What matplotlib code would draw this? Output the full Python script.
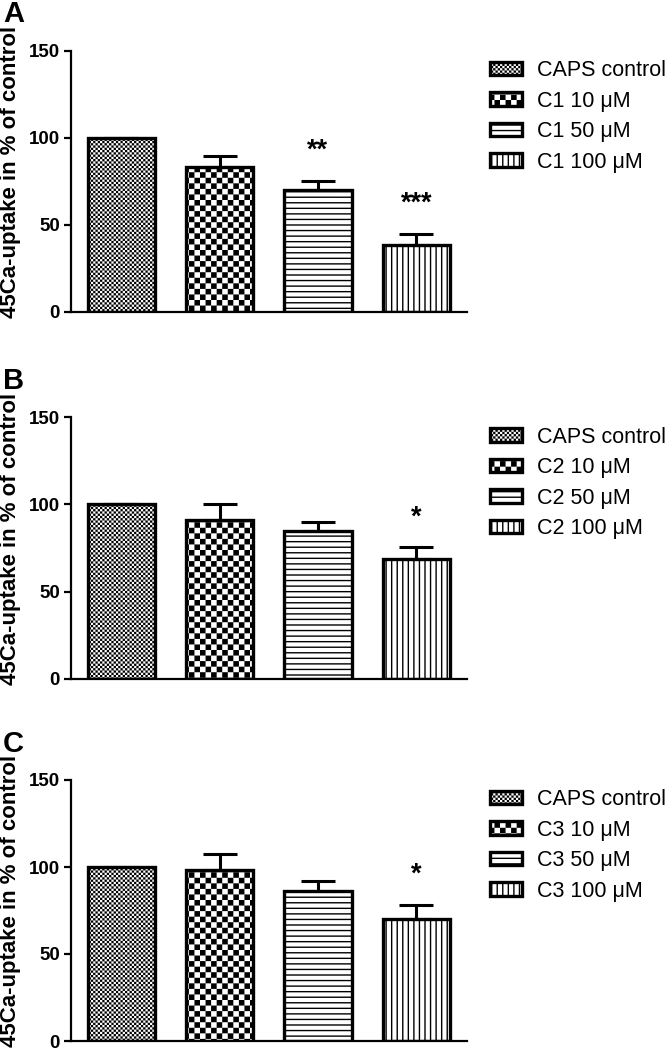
import warnings
import numpy as np
import matplotlib
matplotlib.use("Agg")
import matplotlib.pyplot as plt
from matplotlib import hatch as mhatch

warnings.filterwarnings("ignore", message="hatch must consist")

# ── Data ────────────────────────────────────────────────────────────────
compounds = ["C1", "C2", "C3"]
doses = ["10 μM", "50 μM", "100 μM"]
panel_letters = ["A", "B", "C"]

c1_mean = [100, 83.2, 70.0, 38.6]
c1_err = [0, 6.7, 5.2, 6.2]
c1_stars = ["", "", "**", "***"]

c2_mean = [100, 91.2, 84.8, 68.8]
c2_err = [0, 8.8, 5.4, 6.6]
c2_stars = ["", "", "", "*"]

c3_mean = [100, 98.0, 86.3, 70.2]
c3_err = [0, 9.4, 5.4, 7.9]
c3_stars = ["", "", "", "*"]

means = [c1_mean, c2_mean, c3_mean]
errs = [c1_err, c2_err, c3_err]
stars = [c1_stars, c2_stars, c3_stars]

yticks = [0, 50, 100, 150]
ylabel = "45Ca-uptake in % of control"


# ── Checkerboard hatches ('f' fine, 'g' coarse) ─────────────────────────
class CheckerHatch(mhatch.HatchPatternBase):
    SHRINK = 0.0069  # compensate the hatch stroke width

    def __init__(self, hatch, density):
        if "f" in hatch:
            self.n = 44
        elif "g" in hatch:
            self.n = 18
        else:
            self.n = 0
        self.num_vertices = 5 * (self.n * self.n // 2)

    def set_vertices_and_codes(self, vertices, codes):
        n = self.n
        step = 1.0 / n
        s = self.SHRINK
        k = 0
        for i in range(n):
            for j in range(n):
                if (i + j) % 2:
                    continue
                x0, y0 = i * step + s, j * step + s
                x1, y1 = (i + 1) * step - s, (j + 1) * step - s
                vertices[k:k + 5] = [(x0, y0), (x1, y0), (x1, y1), (x0, y1), (x0, y0)]
                codes[k:k + 5] = [1, 2, 2, 2, 79]
                k += 5


mhatch._hatch_types.append(CheckerHatch)

hatches = ["f", "g", "---", "|||"]

plt.rcParams["font.family"] = ["Liberation Sans", "DejaVu Sans"]
plt.rcParams["hatch.linewidth"] = 1.0
plt.rcParams["hatch.color"] = "black"

W, H = 667, 1055
fig = plt.figure(figsize=(W / 100, H / 100), dpi=100)

left_px, right_px = 70.5, 467
tops_px = [51, 417.5, 780]
h_px = 261

x = np.arange(4)
for k in range(3):
    top = tops_px[k]
    ax = fig.add_axes([left_px / W, 1 - (top + h_px) / H,
                       (right_px - left_px) / W, h_px / H])
    bars = ax.bar(x, means[k], width=0.684, color="white", edgecolor="black",
                  linewidth=2.4, zorder=2)
    for p, hp in zip(bars.patches, hatches):
        p.set_hatch(hp)
    ax.errorbar(x, means[k], yerr=[np.zeros(4), errs[k]], fmt="none",
                ecolor="black", elinewidth=2.2, capsize=12.5, capthick=2.2,
                zorder=3)
    for xi, m, e, s in zip(x, means[k], errs[k], stars[k]):
        if s:
            ax.text(xi, m + e + 13.3, s, ha="center", va="baseline",
                    fontsize=19.5, fontweight="bold")

    ax.set_xlim(-0.515, 3.515)
    ax.set_ylim(0, 150)
    ax.set_yticks(yticks)
    ax.set_xticks([])
    for side in ("top", "right"):
        ax.spines[side].set_visible(False)
    for side in ("left", "bottom"):
        ax.spines[side].set_linewidth(1.6)
    ax.tick_params(axis="y", width=1.6, length=5, pad=2.5, labelsize=13.5)
    for lab in ax.get_yticklabels():
        lab.set_fontweight("bold")

    ax.text((11 - left_px) / (right_px - left_px), 0.536, ylabel,
            transform=ax.transAxes, rotation=90, ha="center", va="center",
            fontsize=16, fontweight="bold")

    labels = ["CAPS control"] + [f"{compounds[k]} {d}" for d in doses]
    ax.legend(bars.patches, labels, loc="upper left",
              bbox_to_anchor=((490 - left_px) / (right_px - left_px), 0.965),
              frameon=False, fontsize=15.5, handlelength=1.5, handleheight=0.6,
              handletextpad=0.7, labelspacing=0.44, borderpad=0,
              borderaxespad=0)

    fig.text(3 / W, 1 - (top - 28.5) / H, panel_letters[k], ha="left",
             va="baseline", fontsize=21, fontweight="bold")

fig.savefig("out.png", dpi=100)
